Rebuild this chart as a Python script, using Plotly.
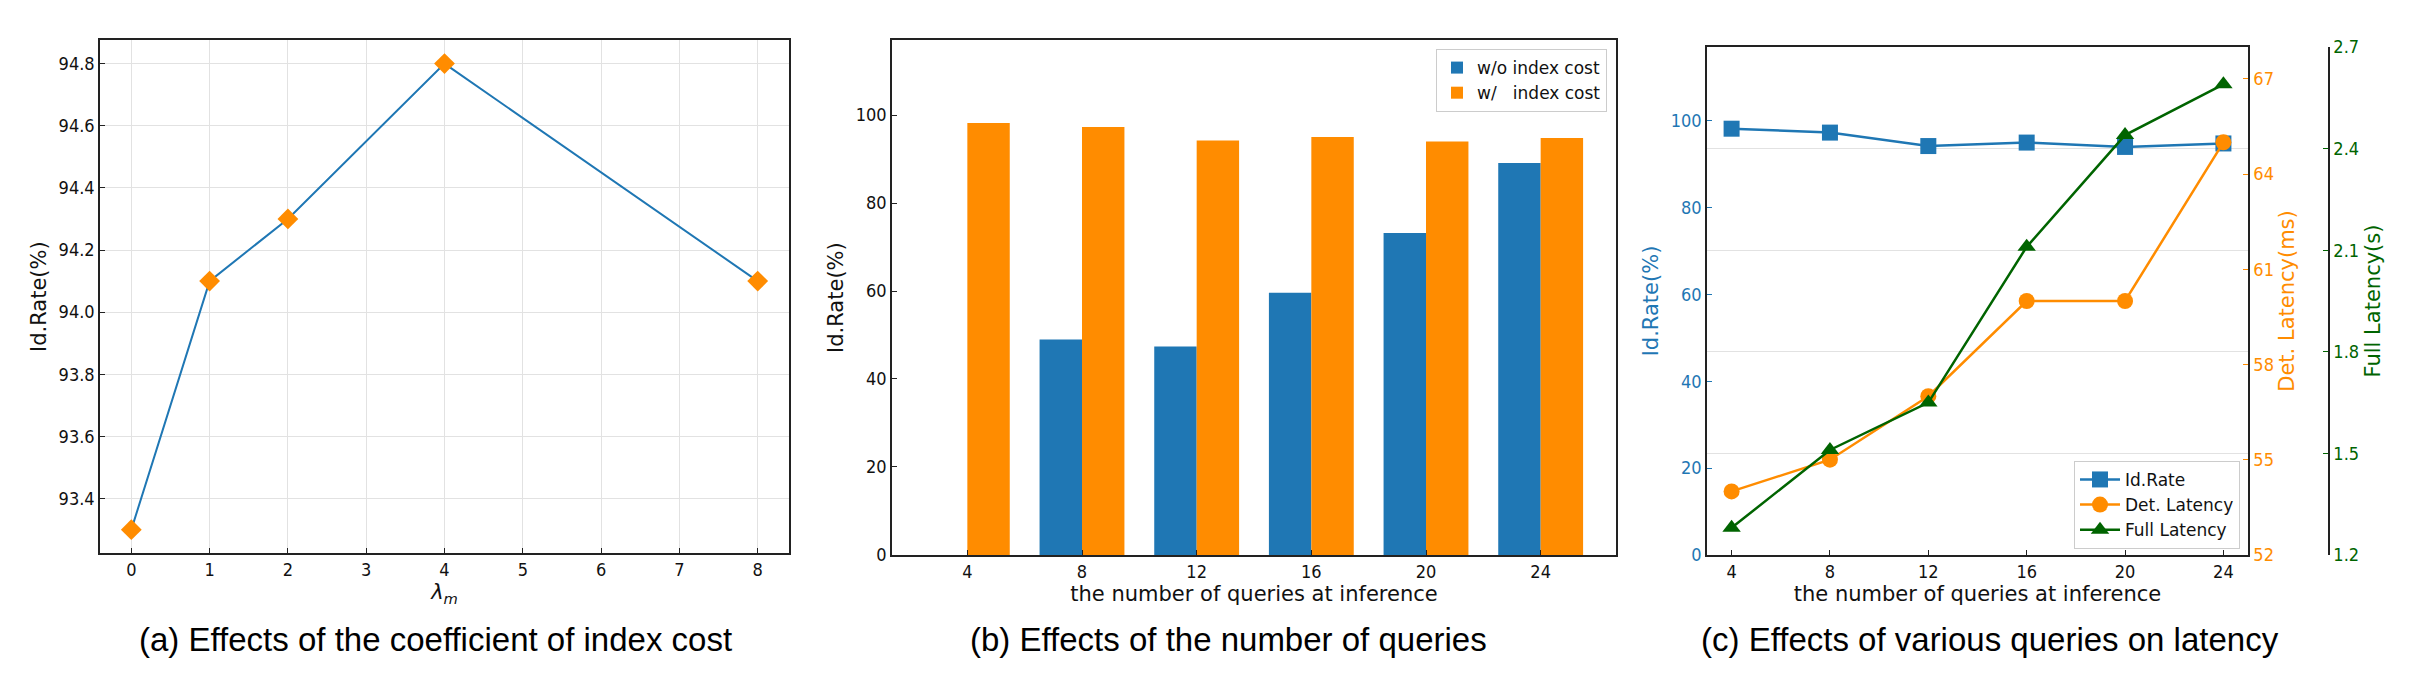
import plotly.graph_objects as go

W, H = 2414, 679

# (a) coefficient of index cost
lam_m = [0, 1, 2, 4, 8]
lam_id_rate = [93.3, 94.1, 94.3, 94.8, 94.1]

# (b) / (c) number of queries at inference
queries = [4, 8, 12, 16, 20, 24]
id_rate_wo_cost = [None, 49.0, 47.4, 59.6, 73.2, 89.1]
id_rate_w_cost = [98.2, 97.3, 94.2, 95.0, 94.0, 94.8]
det_latency = [54, 55, 57, 60, 60, 65]
full_latency = [1.28, 1.51, 1.65, 2.11, 2.44, 2.59]

captions = [
    "(a) Effects of the coefficient of index cost",
    "(b) Effects of the number of queries",
    "(c) Effects of various queries on latency",
]

BLUE = "#1f77b4"
ORANGE = "#ff8c00"
GREEN = "#006400"
SPINE = "#222222"
GRID = "#e2e2e2"
TICK_FONT = "DejaVu Sans Condensed, DejaVu Sans"


def fx(p):
    return p / W


def fy(p):
    return 1 - p / H


def axis_style(color="#111", **kw):
    base = dict(
        showline=True, linecolor=SPINE, linewidth=1.5, mirror=True,
        ticks="inside", ticklen=5, tickwidth=1.2, tickcolor=SPINE,
        zeroline=False, showgrid=False,
        tickfont=dict(family=TICK_FONT, size=18, color=color),
        title_font=dict(size=21, color=color),
    )
    base.update(kw)
    return base


fig = go.Figure()

# (a)
fig.add_trace(go.Scatter(
    x=lam_m, y=lam_id_rate, mode="lines+markers",
    line=dict(color=BLUE, width=2),
    marker=dict(symbol="diamond", size=16, color=ORANGE),
    xaxis="x", yaxis="y", showlegend=False,
))

# (b)
bw = 1.48
fig.add_trace(go.Bar(
    x=queries, y=id_rate_wo_cost, name="w/o index cost",
    marker=dict(color=BLUE, line=dict(width=0)), width=bw, offset=-bw,
    xaxis="x2", yaxis="y2", legend="legend",
))
fig.add_trace(go.Bar(
    x=queries, y=id_rate_w_cost, name="w/\u00a0\u00a0\u00a0index cost",
    marker=dict(color=ORANGE, line=dict(width=0)), width=bw, offset=0,
    xaxis="x2", yaxis="y2", legend="legend",
))

# (c)
fig.add_trace(go.Scatter(
    x=queries, y=id_rate_w_cost, mode="lines+markers", name="Id.Rate",
    line=dict(color=BLUE, width=2.5),
    marker=dict(symbol="square", size=16, color=BLUE),
    xaxis="x3", yaxis="y3", legend="legend2",
))
fig.add_trace(go.Scatter(
    x=queries, y=det_latency, mode="lines+markers", name="Det. Latency",
    line=dict(color=ORANGE, width=2.5),
    marker=dict(symbol="circle", size=16, color=ORANGE),
    xaxis="x3", yaxis="y4", legend="legend2",
))
fig.add_trace(go.Scatter(
    x=queries, y=full_latency, mode="lines+markers", name="Full Latency",
    line=dict(color=GREEN, width=2.5),
    marker=dict(symbol="triangle-up", size=16, color=GREEN),
    xaxis="x3", yaxis="y5", legend="legend2",
))

fig.update_layout(
    width=W, height=H,
    margin=dict(l=0, r=0, t=0, b=0),
    paper_bgcolor="white", plot_bgcolor="white",
    font=dict(family="DejaVu Sans", size=18, color="#111"),
    barmode="overlay",
    xaxis=axis_style(
        domain=[fx(92), fx(781)], anchor="y", range=[-0.4, 8.4], dtick=1,
        showgrid=True, gridcolor=GRID, gridwidth=1,
        title=dict(text="<i>λ</i><sub><i>m</i></sub>", standoff=4),
    ),
    yaxis=axis_style(
        domain=[fy(551), fy(22)], anchor="x", range=[93.225, 94.875],
        tick0=93.4, dtick=0.2, tickformat=".1f",
        showgrid=True, gridcolor=GRID, gridwidth=1,
        title=dict(text="Id.Rate(%)", standoff=6),
    ),
    xaxis2=axis_style(
        domain=[fx(884), fx(1608)], anchor="y2", range=[1.372, 26.628],
        tickvals=queries,
        title=dict(text="the number of queries at inference", standoff=4),
    ),
    yaxis2=axis_style(
        domain=[fy(553), fy(22)], anchor="x2", range=[0, 117], dtick=20,
        title=dict(text="Id.Rate(%)", standoff=6),
    ),
    xaxis3=axis_style(
        domain=[fx(1699), fx(2240)], anchor="y3", range=[3, 25],
        tickvals=queries,
        title=dict(text="the number of queries at inference", standoff=4),
    ),
    yaxis3=axis_style(
        color=BLUE,
        domain=[fy(553), fy(29)], anchor="x3", range=[0, 117], dtick=20,
        tickcolor=BLUE, title=dict(text="Id.Rate(%)", standoff=6),
    ),
    yaxis4=axis_style(
        color=ORANGE,
        overlaying="y3", side="right", anchor="x3", range=[52, 68],
        tick0=52, dtick=3, mirror=False, tickcolor=ORANGE,
        title=dict(text="Det. Latency(ms)", standoff=6),
    ),
    yaxis5=axis_style(
        color=GREEN,
        overlaying="y3", side="right", anchor="free", position=fx(2321),
        range=[1.2, 2.7], tick0=1.2, dtick=0.3, tickformat=".1f", mirror=False,
        showgrid=True, gridcolor=GRID, gridwidth=1, tickcolor=GREEN,
        title=dict(text="Full Latency(s)", standoff=6),
    ),
    legend=dict(
        x=fx(1599), y=fy(31), xanchor="right", yanchor="top",
        bordercolor="#cccccc", borderwidth=1, bgcolor="rgba(255,255,255,0.85)",
        font=dict(size=17, color="#111"), tracegroupgap=2,
    ),
    legend2=dict(
        x=fx(2232), y=fy(456), xanchor="right", yanchor="top",
        bordercolor="#cccccc", borderwidth=1, bgcolor="rgba(255,255,255,0.85)",
        font=dict(size=17, color="#111"), itemwidth=40,
    ),
)

for cx, text in zip([427, 1221, 1982], captions):
    fig.add_annotation(
        x=fx(cx), y=fy(640), xref="paper", yref="paper",
        text=text, showarrow=False, xanchor="center", yanchor="middle",
        font=dict(family="Liberation Sans", size=33, color="#000"),
    )

fig.write_html("out.html")
